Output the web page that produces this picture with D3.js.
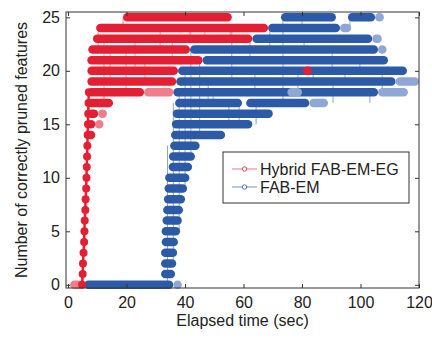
<!DOCTYPE html>
<html>
<head>
<meta charset="utf-8">
<script src="https://cdn.jsdelivr.net/npm/d3@7"></script>
<style>
  body { margin: 0; background: #fff; }
  svg { display: block; font-family: 'Liberation Sans', Arial, sans-serif; }
</style>
</head>
<body>
<div id="chart"></div>
<script>
// Bands of dense markers: [level, start time, end time]
const redBands = [
  [14, 6.4, 8.6], [15, 6.4, 9.2], [16, 6.5, 10.3], [17, 6.5, 15.4],
  [18, 6.6, 26], [19, 6.6, 37.0], [20, 6.6, 37.6], [20, 80.3, 83.4],
  [21, 6.6, 46], [22, 6.9, 41.7], [23, 8.5, 63], [24, 9.6, 68.4], [25, 18.8, 56]
];
// sparse (lighter) stretches
const redLight = [[0, 0.7, 5.2], [15, 9.2, 12], [16, 10.3, 13.3], [18, 26, 36]];
// rise of the red runs: time reached at each level 0..18
const redRise = [4.8, 5.0, 5.1, 5.3, 5.5, 5.6, 5.7, 5.9, 6.0, 6.2, 6.3, 6.4, 6.5, 6.6, 6.7, 6.8, 6.9, 7.0, 7.1];
// thin connector lines: [time, from level, to level]
const redDrops = [
  [10.3, 22, 24], [12.3, 17, 23], [14.4, 19, 22], [18.8, 24, 25], [19.8, 18, 22],
  [22.9, 20, 23], [26.3, 19, 21], [31.5, 22, 24], [35.6, 21, 23], [41.7, 23, 24],
  [46.8, 23, 24], [55.4, 23, 24]
];

const blueBands = [
  [0, 5.5, 36.0], [1, 31.8, 36.6], [2, 31.8, 37.0], [3, 31.8, 37.3], [4, 32.0, 37.6],
  [5, 32.0, 38.3], [6, 32.3, 38.9], [7, 32.5, 39.3], [8, 32.8, 40.0], [9, 33.0, 40.7],
  [10, 33.2, 41.5], [11, 34.4, 42.4], [12, 34.5, 43.4], [13, 34.9, 45.0], [14, 35.2, 53.7],
  [15, 35.5, 63.0], [16, 35.8, 70.0], [17, 36.6, 59.5], [17, 60.9, 82.5], [18, 36.0, 106],
  [19, 37.0, 112], [20, 37.6, 115.9], [21, 46.0, 109.4], [22, 41.7, 106], [23, 63.0, 104],
  [24, 68.4, 93], [25, 72.8, 91.6], [25, 95.7, 105]
];
const blueLight = [
  [0, 36.0, 36.8], [17, 82.5, 88.9], [18, 75, 80], [18, 106, 116.2], [19, 112, 120],
  [22, 106, 108.4], [23, 104, 107.3], [24, 93, 96.8], [25, 105, 108]
];
const blueDrops = [
  [34, 0, 13], [36, 2, 17], [38, 5, 18], [40, 9, 20], [42, 12, 22], [45, 14, 21],
  [47.9, 17, 19], [49.6, 17, 18], [55, 15, 17], [56, 19, 24], [58.5, 15, 17],
  [62.2, 21, 23], [63.9, 18, 20], [64.3, 15, 17], [69, 22, 24], [73.5, 17, 25],
  [78.6, 18, 20], [80, 24, 25], [80.7, 22, 23], [83.8, 19, 20], [90.3, 20, 22],
  [90.6, 17, 19], [94.7, 19, 20], [96.4, 24, 25], [99.8, 20, 21], [103.2, 17, 18],
  [107.4, 18, 20]
];

const xTicks = [0, 20, 40, 60, 80, 100, 120];
const yTicks = [0, 5, 10, 15, 20, 25];
const seriesNames = ['Hybrid FAB-EM-EG', 'FAB-EM'];

const red = '#e41f33', redPale = '#f27d8a', redThin = '#ef8a95';
const blue = '#2d5aa7', bluePale = '#8ea7d4', blueThin = '#8aa2cf';

const width = 432, height = 338;
const bandH = 8.5;
const fontSize = '16px';

const svg = d3.select('#chart').append('svg')
  .attr('width', width).attr('height', height);

const x = d3.scaleLinear().domain([-0.7, 120]).range([66, 419]);
const y = d3.scaleLinear().domain([-0.3, 25.5]).range([288, 12]);

const plot = svg.append('g');

function drawDrops(data, color) {
  plot.append('g').selectAll('line').data(data).join('line')
    .attr('x1', d => x(d[0])).attr('x2', d => x(d[0]))
    .attr('y1', d => y(d[1])).attr('y2', d => y(d[2]))
    .attr('stroke', color).attr('stroke-width', 1);
}

function drawBands(data, color) {
  plot.append('g').selectAll('rect').data(data).join('rect')
    .attr('x', d => x(d[1]))
    .attr('width', d => Math.max(bandH, x(d[2]) - x(d[1])))
    .attr('y', d => y(d[0]) - bandH / 2)
    .attr('height', bandH)
    .attr('rx', bandH / 2)
    .attr('fill', color);
}

drawDrops(blueDrops, blueThin);
drawDrops(redDrops, redThin);
drawBands(blueBands, blue);
drawBands(blueLight, bluePale);
drawBands(redLight, redPale);
drawBands(redBands, red);

// red rise markers
plot.append('path')
  .attr('d', d3.line().x(d => x(d)).y((d, i) => y(i))(redRise))
  .attr('fill', 'none').attr('stroke', red).attr('stroke-width', 2.5);
plot.append('g').selectAll('circle').data(redRise).join('circle')
  .attr('cx', d => x(d)).attr('cy', (d, i) => y(i)).attr('r', 4)
  .attr('fill', red);

// axes frame
const axisColor = '#333';
const x0 = x.range()[0], x1 = x.range()[1], y0 = y.range()[0], y1 = y.range()[1];

svg.append('g').attr('transform', `translate(0,${y0})`)
  .call(d3.axisBottom(x).tickValues(xTicks).tickSizeInner(-4).tickSizeOuter(0).tickPadding(9))
  .call(g => g.select('.domain').remove());
svg.append('g').attr('transform', `translate(0,${y1})`)
  .call(d3.axisTop(x).tickValues(xTicks).tickSizeInner(-4).tickSizeOuter(0).tickFormat(''))
  .call(g => g.select('.domain').remove());
svg.append('g').attr('transform', `translate(${x0},0)`)
  .call(d3.axisLeft(y).tickValues(yTicks).tickSizeInner(-4).tickSizeOuter(0).tickPadding(6))
  .call(g => g.select('.domain').remove());
svg.append('g').attr('transform', `translate(${x1},0)`)
  .call(d3.axisRight(y).tickValues(yTicks).tickSizeInner(-4).tickSizeOuter(0).tickFormat(''))
  .call(g => g.select('.domain').remove());

svg.selectAll('.tick line').attr('stroke', axisColor);
svg.selectAll('.tick text').attr('fill', '#222').style('font-size', fontSize)
  .style('font-family', "'Liberation Sans', Arial, sans-serif");

svg.append('rect')
  .attr('x', x0).attr('y', y1).attr('width', x1 - x0).attr('height', y0 - y1)
  .attr('fill', 'none').attr('stroke', axisColor).attr('stroke-width', 1);

// labels
svg.append('text')
  .attr('x', (x0 + x1) / 2).attr('y', 326)
  .attr('text-anchor', 'middle').attr('fill', '#222').style('font-size', fontSize)
  .text('Elapsed time (sec)');
svg.append('text')
  .attr('transform', `translate(27,${(y0 + y1) / 2}) rotate(-90)`)
  .attr('text-anchor', 'middle').attr('fill', '#222').style('font-size', fontSize)
  .text('Number of correctly pruned features');

// legend
const legend = svg.append('g').attr('transform', 'translate(223,152)');
legend.append('rect').attr('width', 186).attr('height', 51)
  .attr('fill', '#fff').attr('stroke', axisColor).attr('stroke-width', 1);
const legendColors = [redThin, blueThin];
const legendMark = [red, blue];
seriesNames.forEach((name, i) => {
  const ly = 17 + i * 18;
  legend.append('line').attr('x1', 9).attr('x2', 34).attr('y1', ly).attr('y2', ly)
    .attr('stroke', legendColors[i]).attr('stroke-width', 1.2);
  legend.append('circle').attr('cx', 21.5).attr('cy', ly).attr('r', 2.2)
    .attr('fill', '#fff').attr('stroke', legendMark[i]).attr('stroke-width', 0.8);
  legend.append('text').attr('x', 37).attr('y', ly + 5.5)
    .attr('fill', '#222').style('font-size', fontSize).text(name);
});
</script>
</body>
</html>
